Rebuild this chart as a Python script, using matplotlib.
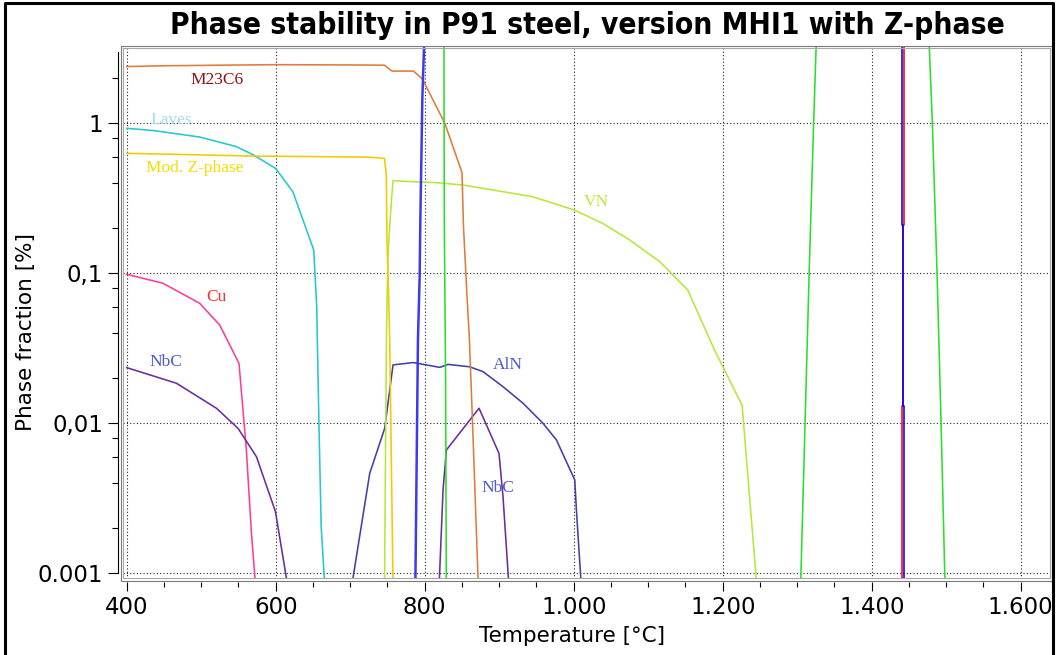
import matplotlib
matplotlib.use("Agg")
import matplotlib.pyplot as plt
from matplotlib.ticker import FixedLocator, FixedFormatter, LogLocator, MultipleLocator, NullFormatter
from matplotlib.lines import Line2D

# ---------------- data (temperature in degC, phase fraction in %) ----------------
m23c6_T = [400, 451, 599, 698, 746, 756, 785, 797, 827, 850, 852, 857, 860, 865, 872]
m23c6_v = [2.39, 2.42, 2.46, 2.45, 2.44, 2.23, 2.23, 1.97, 1.0, 0.47, 0.206, 0.067, 0.036, 0.0078, 0.0008]

laves_T = [400, 436, 498, 547, 570, 600, 623, 651, 655, 658, 661, 666]
laves_v = [0.926, 0.895, 0.81, 0.70, 0.616, 0.50, 0.35, 0.143, 0.060, 0.010, 0.00205, 0.0008]

modz_T = [400, 570, 650, 724, 746, 748.5, 749.3, 750.7, 751.7, 753, 757.5]
modz_v = [0.631, 0.605, 0.60, 0.595, 0.584, 0.452, 0.167, 0.1005, 0.0664, 0.0359, 0.0008]

vn_T = [746, 748.6, 749.4, 750.7, 753, 755.3, 757.5, 775, 816, 851, 905, 945, 1001, 1039, 1075, 1116, 1153, 1189, 1226, 1246]
vn_v = [0.0008, 0.036, 0.066, 0.129, 0.205, 0.308, 0.415, 0.41, 0.402, 0.388, 0.35, 0.324, 0.264, 0.215, 0.167, 0.119, 0.0774, 0.0308, 0.0132, 0.0008]

cu_T = [400, 448.7, 498, 524.8, 550.7, 560.6, 567.4, 573.2]
cu_v = [0.0985, 0.0858, 0.0631, 0.0452, 0.0251, 0.00664, 0.00185, 0.0008]

nbc1_T = [400, 466.7, 520.4, 549.4, 574.1, 599.6, 616.5]
nbc1_v = [0.0235, 0.0185, 0.0126, 0.00926, 0.00599, 0.00258, 0.0008]

aln_T = [701.6, 726.2, 746.3, 753, 757.5, 784.3, 802.3, 820.1, 831.3, 860.4, 878.3, 905.1, 932, 958.8, 976.8, 1001.4, 1003.6, 1010.3]
aln_v = [0.0008, 0.00464, 0.00926, 0.01668, 0.0245, 0.0254, 0.0245, 0.0236, 0.0247, 0.0238, 0.0221, 0.01754, 0.0136, 0.010, 0.00774, 0.00419, 0.00264, 0.0008]

nbc2_T = [819.2, 824.6, 829.1, 872.9, 899.7, 905.1, 913.2]
nbc2_v = [0.0008, 0.00359, 0.00664, 0.0126, 0.0063, 0.00324, 0.0008]

ferrite_T = [799.3, 796.8, 795.5, 794.1, 793.2, 790.9, 787.4]
ferrite_v = [3.5, 1.468, 0.584, 0.2266, 0.0949, 0.0359, 0.0008]

austA_T = [825.8, 826.3, 828.0, 829.0]
austA_v = [3.5, 0.21, 0.02, 0.0008]

austB_T = [1304.5, 1310.5, 1316, 1322, 1325.6]
austB_v = [0.0008, 0.01, 0.1, 1.0, 3.5]

austC_T = [1477, 1481.4, 1487.7, 1493.1, 1498.0, 1498.8]
austC_v = [3.5, 1.0, 0.1, 0.01, 0.001, 0.0008]

red_T = [1443.8, 1443.8, 1442.4, 1442.4, 1441.1, 1441.1]
red_v = [3.5, 0.21, 0.21, 0.013, 0.013, 0.0008]
blue_T = [1441.1, 1441.1, 1442.4, 1442.4, 1443.8, 1443.8]
blue_v = [3.5, 0.21, 0.21, 0.013, 0.013, 0.0008]

x_ticks = [400, 600, 800, 1000, 1200, 1400, 1600]
x_ticklabels = ["400", "600", "800", "1.000", "1.200", "1.400", "1.600"]
y_ticks = [0.001, 0.01, 0.1, 1]
y_ticklabels = ["0.001", "0,01", "0,1", "1"]

labels = [("M23C6", 521, 1.94, "#8B1414"),
          ("Laves", 460, 1.06, "#A0DCEC"),
          ("Mod. Z-phase", 491, 0.505, "#F2E000"),
          ("VN", 1031, 0.30, "#C8E03A"),
          ("Cu", 521, 0.069, "#FF2A2A"),
          ("NbC", 452, 0.0258, "#4A5AD0"),
          ("AlN", 911, 0.0245, "#4A5AD0"),
          ("NbC", 898, 0.0037, "#4A5AD0")]

title = "Phase stability in P91 steel, version MHI1 with Z-phase"

# ---------------- figure ----------------
W, H, DPI = 1056, 655, 100
fig = plt.figure(figsize=(W / DPI, H / DPI), dpi=DPI)
fig.patch.set_facecolor("white")

def fx(px):
    return px / W

def fy(py):
    return 1 - py / H

L, R, T_, B = 123, 1050, 47, 579
ax = fig.add_axes([fx(L), fy(B), (R - L) / W, (B - T_) / H])
ax.set_facecolor("white")
ax.set_yscale("log")
ax.set_xlim(395.0, 1639.3)
ax.set_ylim(0.000916, 3.227)

# grid
ax.set_xticks(x_ticks)
ax.xaxis.set_minor_locator(MultipleLocator(50))
ax.yaxis.set_major_locator(FixedLocator(y_ticks))
ax.yaxis.set_minor_locator(LogLocator(base=10, subs=(2, 4, 6, 8)))
ax.yaxis.set_minor_formatter(NullFormatter())
ax.grid(True, which="major", color="#222222", linestyle=(0, (1, 2)), linewidth=0.8)
ax.set_axisbelow(True)

# curves
lw = 1.15
ax.plot(cu_T, cu_v, color="#FF3C9A", lw=lw)
ax.plot(nbc1_T, nbc1_v, color="#6A2CA0", lw=lw)
ax.plot(laves_T, laves_v, color="#22C8D2", lw=lw)
ax.plot(aln_T, aln_v, color="#4040A8", lw=lw)
ax.plot(nbc2_T, nbc2_v, color="#6A2CA0", lw=lw)
ax.plot(vn_T, vn_v, color="#B4E83C", lw=lw)
ax.plot(modz_T, modz_v, color="#F5C800", lw=lw)
ax.plot(m23c6_T, m23c6_v, color="#E07B39", lw=lw)
ax.plot(ferrite_T, ferrite_v, color="#3A3AF0", lw=1.8)
ax.plot(austA_T, austA_v, color="#28E028", lw=lw)
ax.plot(austB_T, austB_v, color="#28E028", lw=lw)
ax.plot(austC_T, austC_v, color="#28E028", lw=lw)
ax.plot(red_T, red_v, color="#FF0000", lw=lw)
ax.plot(blue_T, blue_v, color="#0000FF", lw=lw)

for txt, xv, yv, c in labels:
    ax.text(xv, yv, txt, color=c, fontsize=12.5, family="Liberation Serif",
            ha="center", va="center")

# spines / ticks
for s in ("top", "right", "bottom"):
    ax.spines[s].set_visible(False)
ax.spines["bottom"].set_position(("outward", 2.2))
ax.spines["left"].set_position(("outward", 3.4))
ax.spines["left"].set_bounds(0.001, 3)
ax.spines["left"].set_linewidth(0.8)
ax.spines["left"].set_color("black")

ax.set_xticklabels(x_ticklabels)
ax.yaxis.set_major_formatter(FixedFormatter(y_ticklabels))
ax.tick_params(axis="x", which="major", length=6.2, width=0.8, direction="out", pad=4,
               labelsize=16.5, colors="black")
ax.tick_params(axis="x", which="minor", length=3.6, width=0.8, direction="out")
ax.tick_params(axis="y", which="major", length=7.0, width=0.8, direction="out", pad=4,
               labelsize=16.5, colors="black")
ax.tick_params(axis="y", which="minor", length=4.3, width=0.8, direction="out")
for lab in ax.get_xticklabels() + ax.get_yticklabels():
    lab.set_family("DejaVu Sans")

# plot frame (double grey)
def frame(l, t, r, b, color):
    xs = [fx(l), fx(r), fx(r), fx(l), fx(l)]
    ys = [fy(t), fy(t), fy(b), fy(b), fy(t)]
    fig.add_artist(Line2D(xs, ys, transform=fig.transFigure, color=color, lw=0.8))

frame(120.7, 45.5, 1052.0, 580.8, "#7A7A7A")
frame(123.3, 47.5, 1049.5, 578.2, "#A8A8A8")

# outer image border
fig.add_artist(Line2D([fx(5), fx(5), fx(1053), fx(1053)], [fy(700), fy(3), fy(3), fy(700)],
                      transform=fig.transFigure, color="black", lw=2.2))

# axis labels
fig.text(fx(572), fy(636), "Temperature [°C]", ha="center", va="center",
         fontsize=15.5, family="DejaVu Sans")
fig.text(fx(26), fy(332), "Phase fraction [%]", ha="center", va="center",
         rotation=90, fontsize=15.5, family="DejaVu Sans")

# title fitted to reference width
tt = fig.text(fx(587), fy(25), title, ha="center", va="center", fontsize=20,
              fontweight="bold", family="DejaVu Sans", fontstretch="condensed")
fig.canvas.draw()
bb = tt.get_window_extent()
tt.set_fontsize(20 * 835.0 / bb.width)

fig.savefig("out.png", dpi=DPI, facecolor="white")
